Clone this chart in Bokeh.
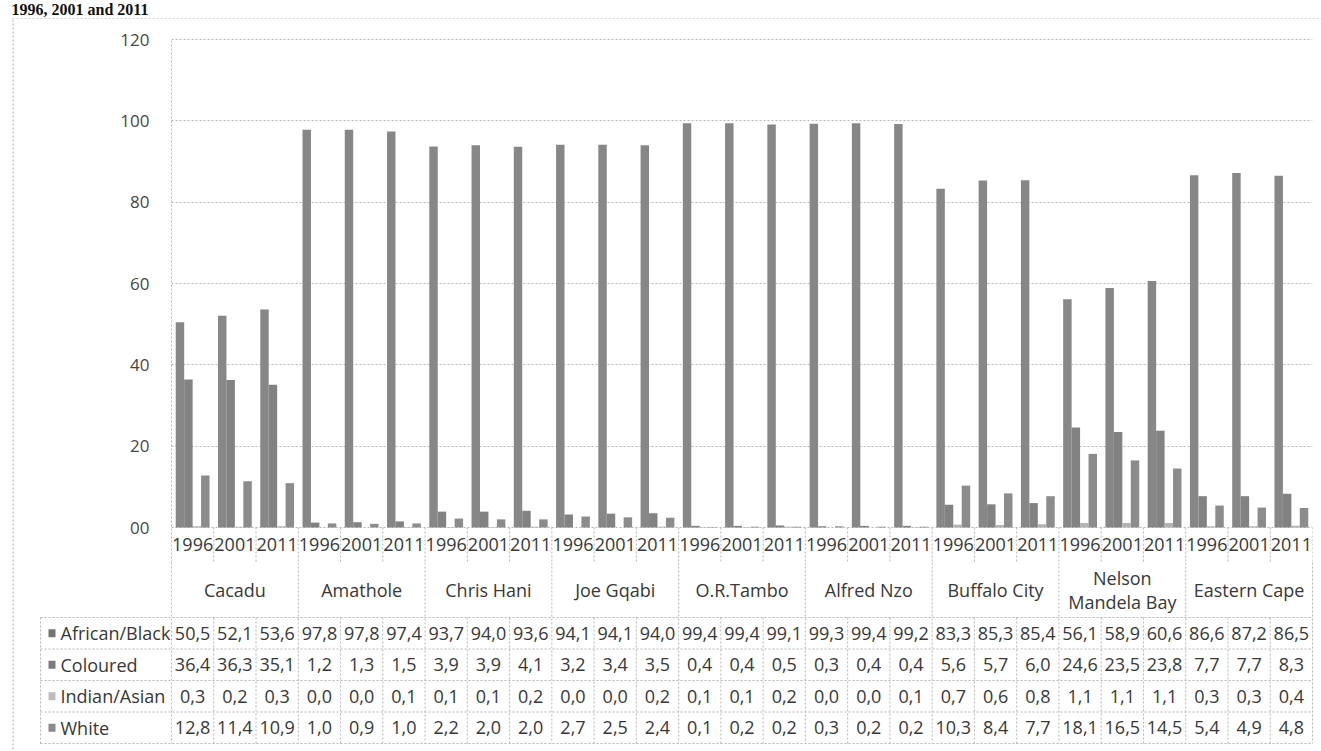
from bokeh.plotting import figure
from bokeh.layouts import column, row
from bokeh.models import Range1d, FixedTicker
from bokeh.core.properties import value
from bokeh.embed import file_html
from bokeh.resources import INLINE

# ---- data -------------------------------------------------------------
title_text = "1996, 2001 and 2011"
districts = ["Cacadu", "Amathole", "Chris Hani", "Joe Gqabi", "O.R.Tambo",
             "Alfred Nzo", "Buffalo City", "Nelson\nMandela Bay", "Eastern Cape"]
years = ["1996", "2001", "2011"]
series_names = ["African/Black", "Coloured", "Indian/Asian", "White"]

african_black = [50.5, 52.1, 53.6, 97.8, 97.8, 97.4, 93.7, 94.0, 93.6,
                 94.1, 94.1, 94.0, 99.4, 99.4, 99.1, 99.3, 99.4, 99.2,
                 83.3, 85.3, 85.4, 56.1, 58.9, 60.6, 86.6, 87.2, 86.5]
coloured = [36.4, 36.3, 35.1, 1.2, 1.3, 1.5, 3.9, 3.9, 4.1,
            3.2, 3.4, 3.5, 0.4, 0.4, 0.5, 0.3, 0.4, 0.4,
            5.6, 5.7, 6.0, 24.6, 23.5, 23.8, 7.7, 7.7, 8.3]
indian_asian = [0.3, 0.2, 0.3, 0.0, 0.0, 0.1, 0.1, 0.1, 0.2,
                0.0, 0.0, 0.2, 0.1, 0.1, 0.2, 0.0, 0.0, 0.1,
                0.7, 0.6, 0.8, 1.1, 1.1, 1.1, 0.3, 0.3, 0.4]
white = [12.8, 11.4, 10.9, 1.0, 0.9, 1.0, 2.2, 2.0, 2.0,
         2.7, 2.5, 2.4, 0.1, 0.2, 0.2, 0.3, 0.2, 0.2,
         10.3, 8.4, 7.7, 18.1, 16.5, 14.5, 5.4, 4.9, 4.8]

y_ticks = [0, 20, 40, 60, 80, 100, 120]
y_tick_labels = ["00", "20", "40", "60", "80", "100", "120"]

# ---- styling ----------------------------------------------------------
series_values = [african_black, coloured, indian_asian, white]
bar_colors = ["#878787", "#828282", "#b3b3b3", "#8c8c8c"]
key_colors = ["#737373", "#7b7b7b", "#bdbdbd", "#8a8a8a"]
grid_color = "#b6b6b6"
border_color = "#a8a8a8"
text_color = "#383838"
FONT = value("Open Sans")
FONT_SIZE = value("18px")

n_cat = len(districts) * len(years)
n_yr = len(years)
bar_w = 0.2

# page geometry (pixels)
W = 1321
H = 751
EDGE_W = 14            # strip holding the chart's left border
HEAD_H = 19            # strip holding the heading
W_INNER = W - EDGE_W
FRAME_LEFT = 157       # plot area left, inside the inner column
FRAME_RIGHT_PAD = 9
TOP_H = 543            # chart panel (plot area + year row)
TAB_H = H - HEAD_H - TOP_H
cat_px = (W_INNER - FRAME_LEFT - FRAME_RIGHT_PAD) / n_cat

# vertical scale of the plot area: 120 at 20 px below the panel top,
# 0 at 508 px, panel bottom (end of year row) at 543 px
y0_px, y120_px = 508, 20
ppu = (y0_px - y120_px) / 120.0
y_lo = -(TOP_H - y0_px) / ppu
y_hi = 120 + (y120_px - 19) / ppu


def vy(px_from_top):
    """Pixel row inside the chart panel -> value units."""
    return (y0_px - px_from_top) / ppu


# ---- chart ------------------------------------------------------------
p_top = figure(width=W_INNER, height=TOP_H, x_range=Range1d(0, n_cat),
               y_range=Range1d(y_lo, y_hi), output_backend="svg",
               toolbar_location=None, x_axis_location=None,
               min_border_left=FRAME_LEFT, min_border_right=FRAME_RIGHT_PAD,
               min_border_top=19, min_border_bottom=0,
               outline_line_color=None, background_fill_color="white",
               border_fill_color="white", frame_align=False)

for s, vals in enumerate(series_values):
    xs = [k + 0.5 + (s - 1.5) * bar_w for k in range(n_cat)]
    p_top.vbar(x=xs, top=vals, bottom=0, width=bar_w,
               fill_color=bar_colors[s], line_color=None)

p_top.xgrid.visible = False
p_top.ygrid.ticker = FixedTicker(ticks=y_ticks)
p_top.ygrid.grid_line_color = grid_color
p_top.ygrid.grid_line_dash = "2 2"

yax = p_top.yaxis[0]
yax.ticker = FixedTicker(ticks=y_ticks)
yax.major_label_overrides = {t: lbl for t, lbl in zip(y_ticks, y_tick_labels)}
yax.major_tick_line_color = None
yax.minor_tick_line_color = None
yax.axis_line_color = grid_color
yax.axis_line_dash = "2 2"
yax.major_label_standoff = 16
yax.major_label_text_font = "Open Sans"
yax.major_label_text_font_size = "17px"
yax.major_label_text_color = "#474747"

# year row of the data table, directly under the baseline
bx = list(range(1, n_cat + 1))
p_top.segment(x0=bx, y0=[0] * len(bx), x1=bx, y1=[y_lo] * len(bx),
              line_color=grid_color, line_dash="2 2")
p_top.text(x=[k + 0.5 for k in range(n_cat)], y=[vy(525)] * n_cat,
           text=[years[k % n_yr] for k in range(n_cat)],
           text_font=FONT, text_font_size=FONT_SIZE, text_color=text_color,
           text_align="center", text_baseline="middle")

# ---- rest of the data table -------------------------------------------
p_tab = figure(width=W_INNER, height=TAB_H,
               x_range=Range1d(-FRAME_LEFT / cat_px, (W_INNER - FRAME_LEFT) / cat_px),
               y_range=Range1d(TAB_H, 0), output_backend="svg",
               toolbar_location=None, x_axis_location=None, y_axis_location=None,
               min_border=0, outline_line_color=None,
               background_fill_color="white", border_fill_color="white",
               frame_align=False)
p_tab.grid.visible = False


def cu(px_local):
    """Horizontal pixel offset inside the table panel -> category units."""
    return (px_local - FRAME_LEFT) / cat_px


row_top = 55
row_h = 31.5
row_edges = [row_top + i * row_h for i in range(len(series_names) + 1)]
table_left = cu(26)

hy = row_edges
p_tab.segment(x0=[table_left] * len(hy), y0=hy, x1=[n_cat] * len(hy), y1=hy,
              line_color=grid_color, line_dash="2 2")

vx, vy0, vy1 = [table_left], [row_edges[0]], [row_edges[-1]]
for k in range(n_cat + 1):
    vx.append(k)
    vy0.append(0 if k % n_yr == 0 else row_edges[0])
    vy1.append(row_edges[-1])
p_tab.segment(x0=vx, y0=vy0, x1=vx, y1=vy1, line_color=grid_color,
              line_dash="2 2")

# district labels
p_tab.text(x=[d * n_yr + n_yr / 2 for d in range(len(districts))],
           y=[27] * len(districts), text=districts,
           text_font=FONT, text_font_size=FONT_SIZE, text_color=text_color,
           text_align="center", text_baseline="middle", text_line_height=1.0)

# value rows with legend keys
for r, (name, vals) in enumerate(zip(series_names, series_values)):
    yc = row_edges[r] + row_h / 2
    p_tab.text(x=[k + 0.5 for k in range(n_cat)], y=[yc] * n_cat,
               text=[f"{v:.1f}".replace(".", ",") for v in vals],
               text_font=FONT, text_font_size=FONT_SIZE, text_color=text_color,
               text_align="center", text_baseline="middle")
    p_tab.rect(x=[cu(37.5)], y=[yc], width=7 / cat_px, height=8,
               fill_color=key_colors[r], line_color=None)
    p_tab.text(x=[cu(46)], y=[yc], text=[name],
               text_font=FONT, text_font_size=FONT_SIZE, text_color=text_color,
               text_align="left", text_baseline="middle")

# ---- heading strip and chart border ------------------------------------
p_head = figure(width=W, height=HEAD_H, x_range=Range1d(0, W),
                y_range=Range1d(HEAD_H, 0), output_backend="svg",
                toolbar_location=None, x_axis_location=None, y_axis_location=None,
                min_border=0, outline_line_color=None,
                background_fill_color="white", border_fill_color="white",
                frame_align=False)
p_head.grid.visible = False
p_head.text(x=[11], y=[9], text=[title_text], text_font=value("Liberation Serif"),
            text_font_style="bold", text_font_size=value("16px"),
            text_color="#111111", text_baseline="middle")
p_head.segment(x0=[12], y0=[HEAD_H - 0.5], x1=[W], y1=[HEAD_H - 0.5],
               line_color=border_color, line_dash="2 2")

p_edge = figure(width=EDGE_W, height=H - HEAD_H, x_range=Range1d(0, EDGE_W),
                y_range=Range1d(H - HEAD_H, 0), output_backend="svg",
                toolbar_location=None, x_axis_location=None, y_axis_location=None,
                min_border=0, outline_line_color=None,
                background_fill_color="white", border_fill_color="white",
                frame_align=False)
p_edge.grid.visible = False
p_edge.segment(x0=[12.5], y0=[0], x1=[12.5], y1=[H - HEAD_H],
               line_color=border_color, line_dash="2 2")

layout = column(p_head, row(p_edge, column(p_top, p_tab)))

open("out.html", "w").write(file_html(layout, INLINE))
